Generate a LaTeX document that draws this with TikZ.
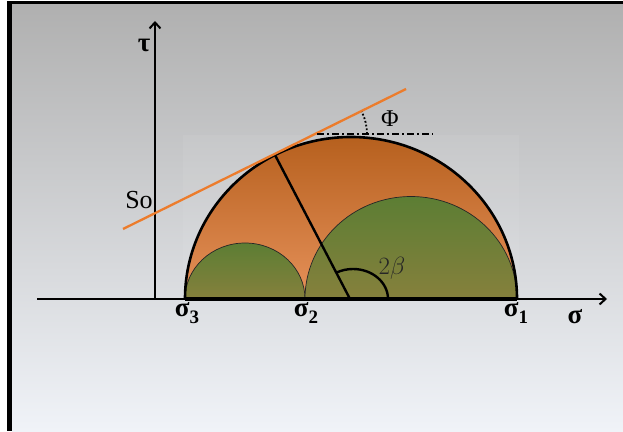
\documentclass[tikz,border=0pt]{standalone}
\usepackage{fontspec}
\setmainfont{Liberation Serif}
\usetikzlibrary{arrows.meta}
\definecolor{bgtop}{RGB}{176,176,176}
\definecolor{bgbot}{RGB}{240,243,248}
\definecolor{ortop}{RGB}{182,96,30}
\definecolor{orbot}{RGB}{230,145,90}
\definecolor{grtop}{RGB}{92,126,52}
\definecolor{grbot}{RGB}{134,128,60}
\definecolor{tang}{RGB}{236,124,44}
\newcommand{\sub}[1]{\raisebox{-7pt}{\fontsize{19}{19}\selectfont #1}}
\begin{document}
\begin{tikzpicture}[x=1pt,y=1pt,
  axisline/.style={line width=2.5pt,-{Straight Barb[length=6pt,width=11pt,line width=2pt]}},
  lbl/.style={font=\fontsize{27}{27}\selectfont\bfseries,inner sep=0pt},
  smallcirc/.style={top color=grtop,bottom color=grbot,draw=black!85,line width=0.7pt},
  thick line/.style={line width=2.4pt}]
\useasboundingbox (0,0) rectangle (623,431);
\fill[white] (0,0) rectangle (623,431);
\fill[black] (7,0) rectangle (623,430);
\shade[top color=bgtop,bottom color=bgbot] (12,0) rectangle (623,426.5);
\fill[white,opacity=0.06] (183,132) rectangle (519,296);
% big Mohr circle
\shade[top color=ortop,bottom color=orbot] (185,132) arc[start angle=180,end angle=0,x radius=166,y radius=162] -- cycle;
\shadedraw[smallcirc] (185,132) arc[start angle=180,end angle=0,x radius=60,y radius=56] -- cycle;
\shadedraw[smallcirc] (305,132) arc[start angle=180,end angle=0,x radius=106,y radius=102.5] -- cycle;
\draw[line width=2.6pt] (185,132) arc[start angle=180,end angle=0,x radius=166,y radius=162];
% axes
\coordinate (xs) at (37,132);
\coordinate (xe) at (607,132);
\coordinate (ys) at (155,132);
\coordinate (ye) at (155,410);
\draw[axisline] (xs) -- (xe);
\draw[axisline] (ys) -- (ye);
\coordinate (s3) at (185,132);
\coordinate (s1) at (517,132);
\draw[line width=4pt] (s3) -- (s1);
% radius and angle 2beta
\coordinate (c) at (350,132);
\coordinate (t) at (275,276);
\draw[thick line] (c) -- (t);
\draw[thick line] (388,132) arc[start angle=0,end angle=119,x radius=35,y radius=30];
% tangent line
\coordinate (ta) at (123,202);
\coordinate (tb) at (406,342);
\draw[tang,line width=2.3pt] (ta) -- (tb);
% friction angle
\coordinate (v) at (317,297);
\coordinate (h) at (433,297);
\draw[line width=2pt,dash pattern=on 7pt off 3pt on 2pt off 3pt] (v) -- (h);
\draw[line width=1.8pt,dotted] (367,297) arc[start angle=0,end angle=26.3,radius=50];
% labels
\node[lbl] (tau) at (144,386) {τ};
\node[lbl,font=\fontsize{26}{26}\selectfont] (so) at (139,231) {So};
\node[lbl,font=\fontsize{24}{24}\selectfont] (phi) at (390,312) {Φ};
\node[lbl,font=\fontsize{24}{24}\selectfont,text=black!85] (beta) at (392,163) {$2\beta$};
\node[lbl] (l3) at (187,118) {σ\sub{3}};
\node[lbl] (l2) at (306,118) {σ\sub{2}};
\node[lbl] (l1) at (516,118) {σ\sub{1}};
\node[lbl] (ls) at (575,114) {σ};
\end{tikzpicture}
\end{document}
